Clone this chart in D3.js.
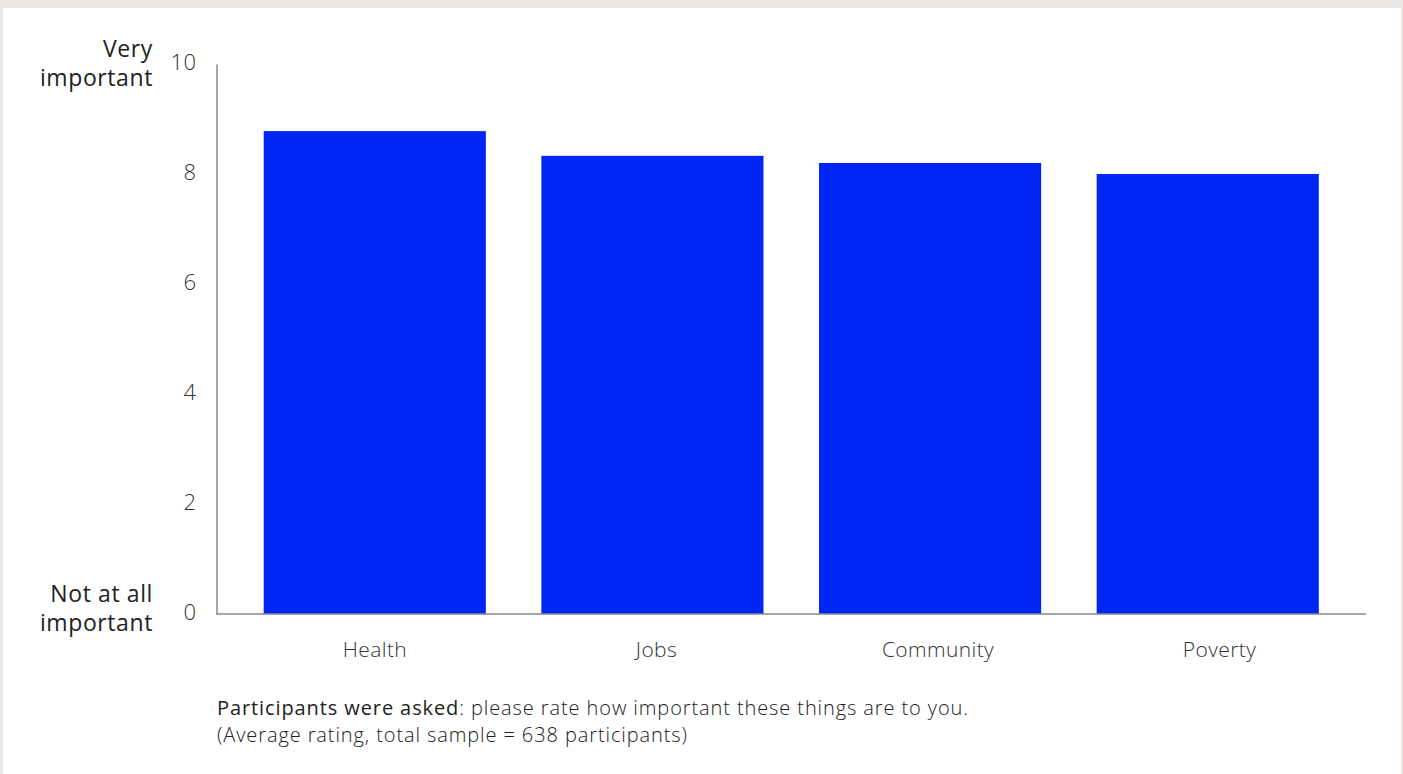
<!DOCTYPE html>
<html><head><meta charset="utf-8">
<script src="https://cdn.jsdelivr.net/npm/d3@7"></script>
<style>
html,body{margin:0;padding:0;background:#ece7e2;}
svg{display:block;}
text{font-family:"Open Sans",Lato,sans-serif;}
</style></head>
<body>
<svg id="chart" width="1403" height="774"></svg>
<script>
const categories = ["Health", "Jobs", "Community", "Poverty"];
const values = [8.78, 8.33, 8.2, 8.0];
const yTicks = [0, 2, 4, 6, 8, 10];
const topLabel = ["Very", "important"];
const bottomLabel = ["Not at all", "important"];
const noteBold = "Participants were asked";
const noteRest = ": please rate how important these things are to you.";
const note2 = "(Average rating, total sample = 638 participants)";

const svg = d3.select("#chart");
svg.append("rect").attr("x", 3).attr("y", 8).attr("width", 1398).attr("height", 766).attr("fill", "#ffffff");

const x0 = 216.5, x1 = 1366, yTop = 64, yBot = 614;
const x = d3.scaleBand().domain(categories).range([x0, x1]).paddingInner(0.2).paddingOuter(0.17);
const y = d3.scaleLinear().domain([0, 10]).range([yBot, yTop]);
// category labels sit on a slightly wider spacing than the bars in the original
const xl = d3.scalePoint().domain(categories).range([x0 + 158, x0 + 1002.5]);

svg.append("g").selectAll("rect").data(categories).join("rect")
  .attr("x", d => x(d)).attr("width", x.bandwidth())
  .attr("y", (d, i) => y(values[i])).attr("height", (d, i) => y(0) - y(values[i]))
  .attr("fill", "#0026f5");

// y axis
const ya = svg.append("g").attr("transform", `translate(${x0},0)`)
  .call(d3.axisLeft(y).tickValues(yTicks).tickSize(0).tickPadding(20).tickFormat(d3.format("d")));
ya.select(".domain").attr("stroke", "#888").attr("stroke-width", 1.5);
ya.selectAll("text").attr("font-size", 22).attr("fill", "#333").attr("font-weight", 300).attr("dy", "0.25em").attr("letter-spacing", 0.5);

// x axis line
svg.append("line").attr("x1", x0).attr("x2", x1).attr("y1", yBot).attr("y2", yBot)
  .attr("stroke", "#888").attr("stroke-width", 1.5);
// x axis labels
const xa = svg.append("g").attr("transform", `translate(0,${yBot})`)
  .call(d3.axisBottom(xl).tickSize(0).tickPadding(28));
xa.select(".domain").remove();
xa.selectAll("text").attr("font-size", 21).attr("fill", "#333").attr("font-weight", 300).attr("letter-spacing", 0.4);

// side labels
const lab = svg.append("g").attr("font-size", 23).attr("fill", "#222").attr("text-anchor", "end").attr("font-weight", 400).attr("letter-spacing", 0.6);
topLabel.forEach((t, i) => lab.append("text").attr("x", 153).attr("y", 57 + i * 29).text(t));
bottomLabel.forEach((t, i) => lab.append("text").attr("x", 153).attr("y", 602 + i * 29).text(t));

// note
const n1 = svg.append("text").attr("x", 217).attr("y", 715).attr("font-size", 20).attr("fill", "#222").attr("letter-spacing", 0.9);
n1.append("tspan").attr("font-weight", 500).text(noteBold);
n1.append("tspan").attr("font-weight", 300).text(noteRest);
svg.append("text").attr("x", 217).attr("y", 742).attr("font-size", 20).attr("fill", "#222").attr("font-weight", 300).attr("letter-spacing", 0.9).text(note2);
</script>
</body></html>
